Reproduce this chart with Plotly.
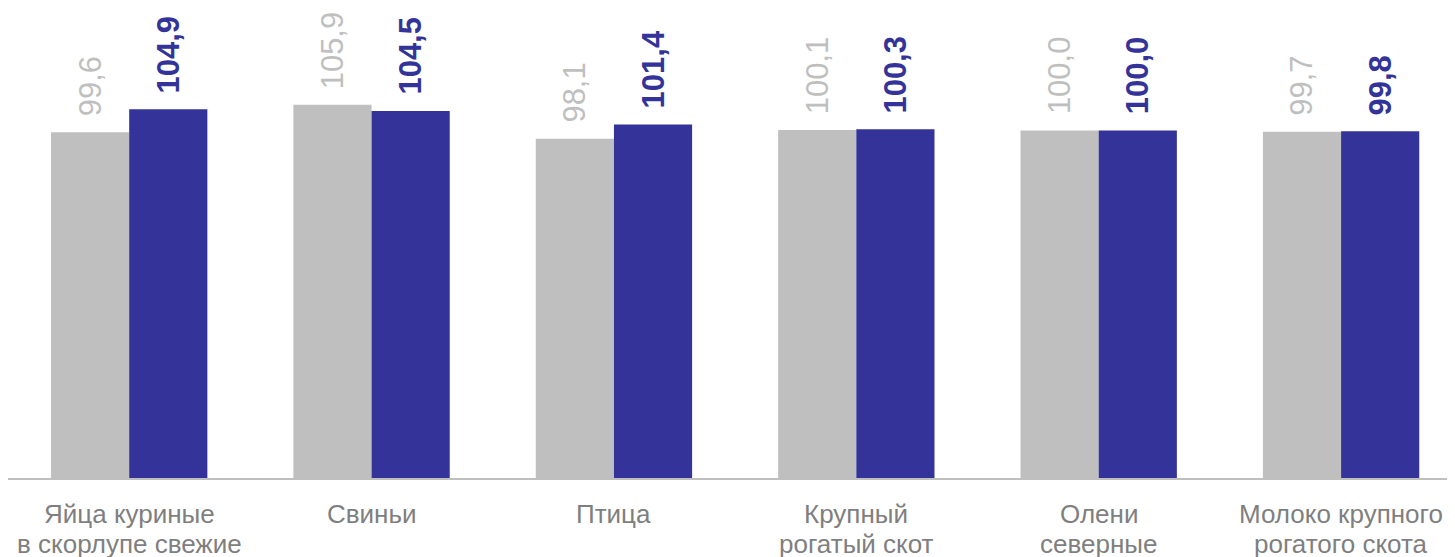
import plotly.graph_objects as go

categories = ["Яйца куриные<br>в скорлупе свежие", "Свиньи", "Птица",
              "Крупный<br>рогатый скот", "Олени<br>северные", "Молоко крупного<br>рогатого скота"]
prev_values = [99.6, 105.9, 98.1, 100.1, 100.0, 99.7]
curr_values = [104.9, 104.5, 101.4, 100.3, 100.0, 99.8]
prev_labels = ["99,6", "105,9", "98,1", "100,1", "100,0", "99,7"]
curr_labels = ["104,9", "104,5", "101,4", "100,3", "100,0", "99,8"]
y_min, y_max = 20, 128.2

GRAY = "#BFBFBF"
BLUE = "#333399"
LABEL_GRAY = "#7F7F7F"
FONT = "Liberation Sans, Arial"

fig = go.Figure()
fig.add_trace(go.Bar(x=list(range(len(categories))), y=prev_values, marker_color=GRAY,
                     marker_line_width=0, name="prev"))
fig.add_trace(go.Bar(x=list(range(len(categories))), y=curr_values, marker_color=BLUE,
                     marker_line_width=0, name="curr"))

bargap = 0.355
half = (1 - bargap) / 4
for i in range(len(categories)):
    fig.add_annotation(x=i - half, y=prev_values[i], text=prev_labels[i], textangle=-90,
                       showarrow=False, xanchor="center", yanchor="bottom", yshift=14,
                       font=dict(family=FONT, size=31, color=GRAY))
    fig.add_annotation(x=i + half, y=curr_values[i], text="<b>" + curr_labels[i] + "</b>",
                       textangle=-90, showarrow=False, xanchor="center", yanchor="bottom",
                       yshift=14,
                       font=dict(family=FONT, size=31, color=BLUE))
    # category label, one annotation per line for exact line spacing
    for j, line in enumerate(categories[i].split("<br>")):
        fig.add_annotation(x=i, y=y_min, text=line, showarrow=False, xanchor="center",
                           yanchor="middle", yshift=-36 - 30 * j,
                           font=dict(family=FONT, size=26, color=LABEL_GRAY))

fig.update_layout(
    width=1447, height=549,
    margin=dict(l=0, r=0, t=0, b=79, autoexpand=False),
    plot_bgcolor="white", paper_bgcolor="white",
    barmode="group", bargap=bargap, bargroupgap=0,
    showlegend=False,
    xaxis=dict(range=[-0.5, 5.47], showline=True, linecolor=GRAY, linewidth=2,
               showgrid=False, zeroline=False, ticks="", showticklabels=False,
               automargin=False),
    yaxis=dict(range=[y_min, y_max], visible=False, showgrid=False, zeroline=False,
               automargin=False),
)

fig.write_html("out.html")
